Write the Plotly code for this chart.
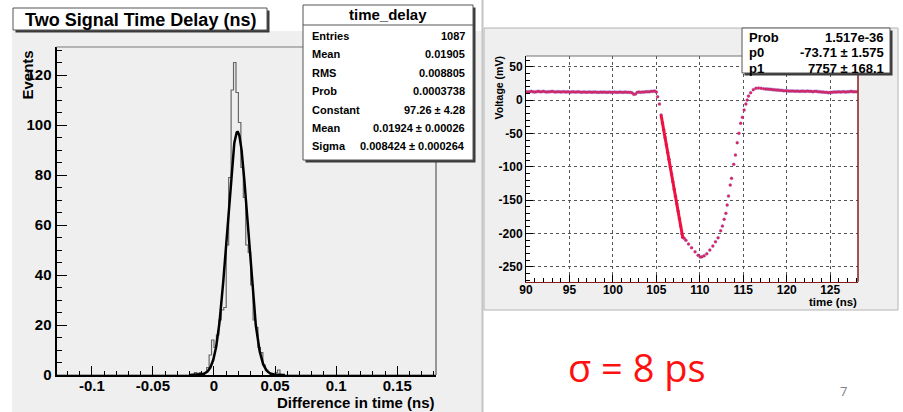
import numpy as np
import plotly.graph_objects as go

W, H = 903, 412


def px(x):
    return x / W


def py(y):
    return 1 - y / H


FONT = "Liberation Sans"

# ---------------- left pad: time-delay histogram ----------------
bin_low = -0.016
bin_width = 0.002
counts = [1, 0, 1, 0, 1, 3, 8, 14, 11, 16, 22, 26, 27, 52, 79, 114, 125,
          113, 101, 83, 71, 52, 49, 36, 22, 19, 11, 9, 4, 2, 1, 0, 0, 1, 2]

hist_xrange = [-0.1289, 0.1817]
hist_yrange = [0, 131.2]
hist_xticks = [-0.1, -0.05, 0, 0.05, 0.1, 0.15]
hist_xticktext = ["-0.1", "-0.05", "0", "0.05", "0.1", "0.15"]
hist_yticks = [0, 20, 40, 60, 80, 100, 120]
hist_yticktext = ["0", "20", "40", "60", "80", "100", "120"]

# Gaussian fit result
gaus_const = 97.26
gaus_mean = 0.01924
gaus_sigma = 0.008424
fit_xmin, fit_xmax = -0.02, 0.058

stat_title = "time_delay"
stat_labels = ["Entries", "Mean", "RMS", "Prob", "Constant", "Mean", "Sigma"]
stat_values = ["1087", "0.01905", "0.008805", "0.0003738",
               "97.26 ± 4.28", "0.01924 ± 0.00026", "0.008424 ± 0.000264"]

# ---------------- right pad: signal waveform ----------------
pre_t0, pre_dt = 90.0, 0.2
pre_v = [
    12.5, 12.0, 12.5, 13.0, 12.5, 12.0, 12.5, 13.0, 12.5, 12.5,
    13.0, 12.5, 12.0, 12.5, 12.5, 13.0, 12.5, 12.0, 12.5, 12.5,
    12.0, 12.5, 12.5, 12.0, 12.5, 12.0, 12.0, 12.5, 12.0, 12.0,
    12.5, 12.0, 11.5, 12.0, 12.0, 11.5, 12.0, 12.0, 11.5, 12.0,
    12.0, 11.5, 11.5, 12.0, 11.5, 12.0, 11.5, 11.5, 12.0, 11.5,
    11.5, 12.0, 11.5, 11.5, 12.0, 11.5, 11.5, 12.0, 11.5, 11.5,
    11.5, 11.0, 8.5, 9.0, 11.5, 12.0, 11.5, 12.0, 12.0, 12.5,
    12.5, 12.5, 13.0, 13.0, 13.5,
]
pulse_t = [105.0, 105.15, 105.35, 105.55, 105.7, 105.85, 106.0, 106.15, 106.3,
           106.45, 106.6, 106.75, 106.9, 107.05, 107.2, 107.35, 107.5, 107.65,
           107.8, 107.95, 108.05, 108.2, 108.4, 108.7, 109.05, 109.45, 109.8,
           110.05, 110.25, 110.5, 110.8, 111.15, 111.5, 111.8, 112.1, 112.4,
           112.6, 112.8, 113.0, 113.15, 113.3, 113.5, 113.65, 113.9, 114.1,
           114.3, 114.5, 114.7, 114.9, 115.1, 115.3, 115.45, 115.6, 115.85,
           116.15, 116.45, 116.75, 117.05, 117.35]
pulse_v = [12.0, 5.0, -6.0, -22.5, -34.5, -45.0, -56.5, -67.0, -78.5,
           -89.0, -100.5, -111.0, -122.5, -134.0, -144.5, -156.0, -166.5, -178.0,
           -189.0, -200.5, -206.0, -207.5, -210.5, -216.0, -221.5, -227.5, -233.0,
           -235.5, -235.0, -233.5, -230.5, -225.0, -219.0, -212.5, -206.5, -196.0,
           -189.0, -179.0, -170.0, -157.5, -144.0, -127.5, -117.5, -96.5, -82.5,
           -64.0, -50.0, -35.0, -26.0, -15.0, -6.0, 0.0, 6.0, 11.0,
           15.5, 17.5, 18.0, 17.5, 17.0]
post_t0, post_dt = 117.6, 0.2
post_v = [
    16.5, 16.5, 16.0, 16.0, 15.5, 15.5, 15.0, 15.0, 14.5, 14.5,
    14.0, 14.0, 14.0, 13.5, 13.5, 13.5, 13.5, 13.0, 13.5, 13.0,
    13.0, 13.5, 13.0, 13.0, 13.5, 13.0, 13.0, 12.5, 13.0, 13.0,
    12.5, 12.5, 12.0, 12.0, 11.5, 11.5, 11.0, 11.5, 11.5, 12.0,
    12.0, 12.0, 12.5, 12.0, 12.5, 12.5, 12.0, 12.5, 12.5, 13.0,
    12.5, 12.5, 12.5,
]

wave_xrange = [90, 128.2]
wave_yrange = [-272.5, 66]
wave_xticks = [90, 95, 100, 105, 110, 115, 120, 125]
wave_xticktext = ["90", "95", "100", "105", "110", "115", "120", "125"]
wave_yticks = [-250, -200, -150, -100, -50, 0, 50]
wave_yticktext = ["-250", "-200", "-150", "-100", "-50", "0", "50"]

# linear fit on the leading edge: V = p0 * t + p1
lin_p0 = -73.71
lin_p1 = 7757
lin_tmin, lin_tmax = 105.55, 108.05

wave_stat_labels = ["Prob", "p0", "p1"]
wave_stat_values = ["1.517e-36", "-73.71 ± 1.575", "7757 ± 168.1"]

# ---------------- traces ----------------
edges = [bin_low + i * bin_width for i in range(len(counts) + 1)]
step_x = [hist_xrange[0]] + edges + [hist_xrange[1]]
step_y = [0] + counts + [0, 0]

fit_x = np.linspace(fit_xmin, fit_xmax, 400)
fit_y = gaus_const * np.exp(-0.5 * ((fit_x - gaus_mean) / gaus_sigma) ** 2)

wave_t = ([pre_t0 + i * pre_dt for i in range(len(pre_v))] + pulse_t
          + [post_t0 + i * post_dt for i in range(len(post_v))])
wave_v = pre_v + pulse_v + post_v

lin_t = np.array([lin_tmin, lin_tmax])
lin_v = lin_p0 * lin_t + lin_p1

fig = go.Figure()
fig.add_trace(go.Scatter(x=step_x, y=step_y, mode="lines", line_shape="hv",
                         line=dict(color="#666666", width=1.2),
                         xaxis="x", yaxis="y", showlegend=False, hoverinfo="skip"))
fig.add_trace(go.Scatter(x=fit_x, y=fit_y, mode="lines",
                         line=dict(color="black", width=2.5),
                         xaxis="x", yaxis="y", showlegend=False, hoverinfo="skip"))
fig.add_trace(go.Scatter(x=wave_t, y=wave_v, mode="markers",
                         marker=dict(size=3, color="#ee1f4a",
                                     line=dict(color="#5a5ae6", width=0.3)),
                         xaxis="x2", yaxis="y2", showlegend=False, hoverinfo="skip"))
fig.add_trace(go.Scatter(x=lin_t, y=lin_v, mode="lines",
                         line=dict(color="#f01040", width=3),
                         xaxis="x2", yaxis="y2", showlegend=False, hoverinfo="skip"))

tick_font = dict(family=FONT, size=15, color="black", weight="bold")
small_font = dict(family=FONT, size=12, color="black", weight="bold")

axis_common = dict(ticks="inside", tickcolor="black", tickwidth=1, showline=True,
                   zeroline=False, fixedrange=True, tickmode="array",
                   automargin=False)

fig.update_layout(
    width=W, height=H,
    margin=dict(l=0, r=0, t=0, b=0, pad=0, autoexpand=False),
    paper_bgcolor="white", plot_bgcolor="rgba(0,0,0,0)",
    xaxis=dict(domain=[px(56.5), px(436)], range=hist_xrange, anchor="y",
               tickvals=hist_xticks, ticktext=hist_xticktext, ticklen=9,
               ticklabelstandoff=-4,
               minor=dict(dtick=0.01, tick0=0, ticks="inside", ticklen=4.5,
                          tickcolor="black", tickwidth=1, showgrid=False),
               linecolor="black", linewidth=2, showgrid=False, tickfont=tick_font,
               **axis_common),
    yaxis=dict(domain=[py(375), py(47)], range=hist_yrange, anchor="x",
               tickvals=hist_yticks, ticktext=hist_yticktext, ticklen=10,
               minor=dict(dtick=5, tick0=0, ticks="inside", ticklen=5,
                          tickcolor="black", tickwidth=1, showgrid=False),
               linecolor="black", linewidth=2, showgrid=False, tickfont=tick_font,
               **axis_common),
    xaxis2=dict(domain=[px(526), px(858)], range=wave_xrange, anchor="y2",
                tickvals=wave_xticks, ticktext=wave_xticktext, ticklen=7,
                ticklabelstandoff=-4,
                minor=dict(dtick=1, tick0=90, ticks="inside", ticklen=3.5,
                           tickcolor="black", tickwidth=1, showgrid=False),
                linecolor="#8b1a1a", linewidth=1.5, showgrid=True,
                gridcolor="#555555", griddash="dot", gridwidth=1,
                tickfont=small_font, **axis_common),
    yaxis2=dict(domain=[py(281.7), py(56)], range=wave_yrange, anchor="x2",
                tickvals=wave_yticks, ticktext=wave_yticktext, ticklen=7,
                minor=dict(dtick=10, tick0=0, ticks="inside", ticklen=4,
                           tickcolor="black", tickwidth=1, showgrid=False),
                linecolor="black", linewidth=1, showgrid=True,
                gridcolor="#555555", griddash="dot", gridwidth=1,
                tickfont=small_font, **axis_common),
)

shapes = []


def rect(x0, y0, x1, y1, fill, line_color=None, lw=0, layer="above"):
    shapes.append(dict(type="rect", xref="paper", yref="paper",
                       x0=px(x0), x1=px(x1), y0=py(y1), y1=py(y0),
                       fillcolor=fill, layer=layer,
                       line=dict(color=line_color or fill, width=lw)))


def seg(x0, y0, x1, y1, color, lw, layer="above"):
    shapes.append(dict(type="line", xref="paper", yref="paper",
                       x0=px(x0), x1=px(x1), y0=py(y0), y1=py(y1), layer=layer,
                       line=dict(color=color, width=lw)))


# canvases
rect(12, 31, 482, 412, "#efefef", layer="below")
rect(484, 28, 898, 310, "#efefef", "#b4b4b4", 1, layer="below")
rect(526, 56, 858, 281.7, "white", layer="below")
seg(482.5, 0, 482.5, 412, "#c4c4c4", 2, layer="below")

# frame edges not covered by axis lines
seg(56.5, 47, 436, 47, "#7a7a7a", 1.2)
seg(436, 47, 436, 375, "#7a7a7a", 1.5)
seg(526, 56, 858, 56, "#707070", 1)
seg(858, 56, 858, 281.7, "#8b1a1a", 1.5)

# title box
rect(15.5, 10.5, 269.5, 32.5, "#3a3a3a")
rect(13, 8, 267, 30, "white", "#555555", 1)

# left statistics box
rect(305.5, 7.5, 475.5, 162.5, "#3a3a3a")
rect(303, 5, 473, 160, "white", "#555555", 1)
seg(303, 25, 473, 25, "#555555", 1)

# right statistics box
rect(744.5, 30.5, 892.5, 75.5, "#3a3a3a")
rect(742, 28, 890, 73, "white", "#555555", 1)

fig.update_layout(shapes=shapes)

ann = []


def text(x, y, s, size, xanchor="center", yanchor="middle", color="black",
         weight="bold", family=FONT, angle=0):
    ann.append(dict(xref="paper", yref="paper", x=px(x), y=py(y), text=s,
                    showarrow=False, xanchor=xanchor, yanchor=yanchor,
                    textangle=angle, borderpad=0,
                    font=dict(family=family, size=size, color=color, weight=weight)))


text(140.5, 19.5, "Two Signal Time Delay (ns)", 18)
text(388, 15, stat_title, 15)
row_y = [36 + 18.4 * i for i in range(len(stat_labels))]
for yy, lab, val in zip(row_y, stat_labels, stat_values):
    text(311, yy, lab, 11, xanchor="left")
    text(466, yy, val, 11, xanchor="right")

text(435.5, 402.5, "Difference in time (ns)", 15, xanchor="right")
text(26.5, 49.5, "Events", 15, yanchor="top", angle=-90)

wave_row_y = [37.5, 52.5, 68]
for yy, lab, val in zip(wave_row_y, wave_stat_labels, wave_stat_values):
    text(748, yy, lab, 13, xanchor="left")
    text(885, yy, val, 13, xanchor="right")

text(858, 302, "time (ns)", 11.5, xanchor="right")
text(498, 55, "Voltage (mV)", 10.5, yanchor="top", angle=-90)

text(636.5, 367, "σ = 8 ps", 38, color="#ff1010", weight="normal", family="Open Sans")
text(843, 391, "7", 13, color="#808080", weight="normal", family="Open Sans")

fig.update_layout(annotations=ann)

fig.write_html("out.html", config={"displayModeBar": False, "staticPlot": True})
